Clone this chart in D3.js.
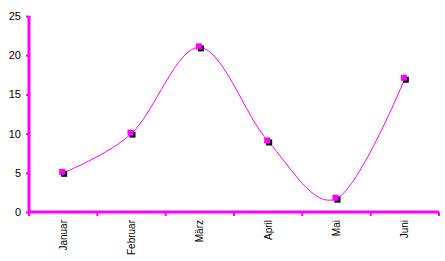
<!DOCTYPE html>
<html><head><meta charset="utf-8">
<script src="https://cdn.jsdelivr.net/npm/d3@7"></script>
<style>body{margin:0;background:#fff}svg{display:block}</style>
</head><body>
<script>
const categories = ["Januar","Februar","März","April","Mai","Juni"];
const values = [5, 10, 21, 9, 1.7, 17];
const yTicks = [0,5,10,15,20,25];

const W=445,H=261;
const svg=d3.select("body").append("svg").attr("width",W).attr("height",H);
const x0=29,x1=439,yTop=16,yBot=212;
const x=d3.scaleBand().domain(categories).range([x0,x1]);
const y=d3.scaleLinear().domain([0,25]).range([yBot,yTop]);
const mag="#ff00ff";
const font="Arial, 'Liberation Sans', sans-serif";

// y axis
const ya=svg.append("g").attr("transform",`translate(${x0},0)`).call(d3.axisLeft(y).tickValues(yTicks).tickSize(3).tickPadding(5));
ya.select(".domain").remove();
ya.selectAll(".tick line").attr("stroke",mag).attr("stroke-width",2);
ya.selectAll(".tick text").attr("font-family",font).attr("font-size",11).attr("fill","#000");
svg.append("line").attr("x1",x0).attr("x2",x0).attr("y1",y(25)).attr("y2",y(0)).attr("stroke",mag).attr("stroke-width",3);

// x axis
const xa=svg.append("g").attr("transform",`translate(0,${yBot})`).call(d3.axisBottom(x).tickSize(0).tickPadding(0));
xa.select(".domain").remove();
xa.selectAll(".tick text").attr("font-family",font).attr("font-size",10).attr("fill","#000")
  .attr("transform","translate(0,8) rotate(-90)").attr("text-anchor","end").attr("dy","0.35em").attr("y",0).attr("x",0);
const bounds=categories.map(c=>x(c)).concat([x1]);
svg.selectAll(".xt").data(bounds).enter().append("line").attr("x1",d=>d).attr("x2",d=>d).attr("y1",yBot).attr("y2",yBot+4).attr("stroke",mag).attr("stroke-width",2);
svg.append("line").attr("x1",x0).attr("x2",x1).attr("y1",yBot).attr("y2",yBot).attr("stroke",mag).attr("stroke-width",3);

// line
const pts=categories.map((c,i)=>[x(c)+x.bandwidth()/2,y(values[i])]);
svg.append("path").attr("d",d3.line().curve(d3.curveCardinal.tension(0))(pts)).attr("fill","none").attr("stroke",mag).attr("stroke-width",1);

// markers
svg.selectAll(".sh").data(pts).enter().append("rect").attr("x",d=>d[0]-2).attr("y",d=>d[1]-2).attr("width",6).attr("height",6).attr("fill","#000");
svg.selectAll(".mk").data(pts).enter().append("rect").attr("x",d=>d[0]-4).attr("y",d=>d[1]-4).attr("width",6).attr("height",6).attr("fill",mag);
</script>
</body></html>
